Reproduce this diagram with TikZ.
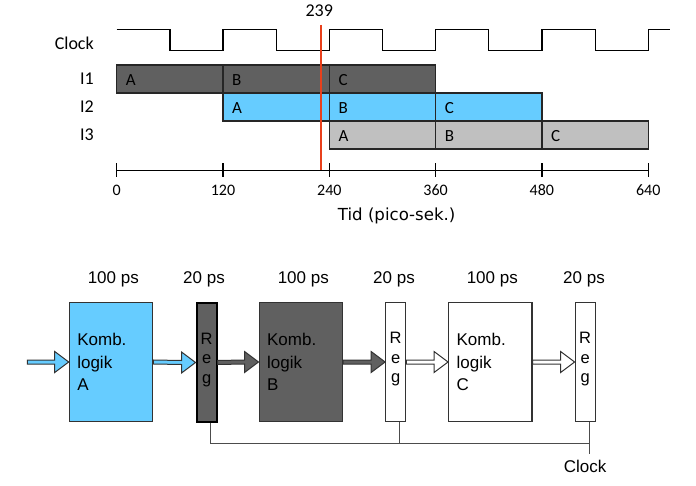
\documentclass[tikz,border=0pt]{standalone}
\usepackage{fontspec}
\setmainfont{Carlito}
\newfontfamily\arialfont{Liberation Sans}
\newfontfamily\tidfont{DejaVu Sans}
\usetikzlibrary{calc}
\definecolor{darkbar}{HTML}{606060}
\definecolor{bluebar}{HTML}{66CCFF}
\definecolor{lightbar}{HTML}{C0C0C0}
\definecolor{cutline}{HTML}{E8401C}
\definecolor{edge}{HTML}{333333}

% fat arrow from one anchor to another (horizontal)
\newcommand\fatarrow[3]{%
  \filldraw[#1] ($(#2)+(0,-2)$) -- ($(#3)+(-14,-2)$) -- ($(#3)+(-14,-10.5)$)
    -- (#3) -- ($(#3)+(-14,10.5)$) -- ($(#3)+(-14,2)$) -- ($(#2)+(0,2)$) -- cycle;}

\begin{document}
\begin{tikzpicture}[
        x=1pt, y=-1pt,
        toplabel/.style={font=\fontsize{18}{20}\selectfont, inner sep=0},
        ticklabel/.style={font=\fontsize{16}{18}\selectfont, inner sep=0, anchor=base},
        barletter/.style={font=\fontsize{17}{19}\selectfont, inner sep=0, anchor=base west},
        bar/.style={draw=black!85, line width=1.2pt},
        clockline/.style={black, line width=1.2pt},
        comb/.style={draw=edge, line width=1.2pt, minimum height=118.6, text width=67.4,
            inner xsep=8, inner ysep=0, align=left, font=\arialfont\fontsize{17}{22.2}\selectfont},
        reg/.style={draw=edge, line width=1.2pt, minimum height=118.6, minimum width=20,
            text width=20, inner sep=0, align=center, font=\arialfont\fontsize{16.5}{19.4}\selectfont},
        delay/.style={font=\arialfont\fontsize{17}{19}\selectfont, inner sep=0, anchor=base},
        wire/.style={draw=black!70, line width=1.2pt},
    ]
    \useasboundingbox (0,0) rectangle (696,486);

    % --- Klokkesignal ---
    \node[toplabel, anchor=base east] (clocklbl) at (94,50) {Clock};
    \draw[clockline] (116.7,29.3) -| (170,50.7) -| (223,29.3) -| (276.2,50.7) -| (329.3,29.3)
        -| (382.5,50.7) -| (435.6,29.3) -| (488.8,50.7) -| (541.9,29.3) -| (595.1,50.7)
        -| (648.2,29.3) -- (670,29.3);

    % --- Instruksjoner i pipelinen ---
    \foreach \r/\col in {0/darkbar, 1/bluebar, 2/lightbar} {
        \node[toplabel, anchor=base east] (row\r) at (94,85+28*\r) {I\pgfmathparse{int(\r+1)}\pgfmathresult};
        \foreach \k/\l in {0/A, 1/B, 2/C} {
            \pgfmathsetmacro\xa{116.7+106.3*(\r+\k)}
            \draw[bar, fill=\col] (\xa,65+28*\r) rectangle ++(106.3,28);
            \node[barletter] (let\r\k) at (\xa+9,86+28*\r) {\l};
        }
    }

    % --- Tidsakse ---
    \draw[clockline] (116.7,170.3) -- (648.2,170.3);
    \foreach \i/\t in {0/0, 1/120, 2/240, 3/360, 4/480, 5/640} {
        \draw[clockline] (116.7+106.3*\i,163.3) -- (116.7+106.3*\i,177);
        \node[ticklabel] (tick\i) at (116.7+106.3*\i,196) {\t};
    }
    \node[inner sep=0, anchor=base, font=\tidfont\fontsize{16.6}{18}\selectfont] (tid) at (396.7,220.5) {Tid (pico-sek.)};

    % --- Tidspunkt 239 ---
    \draw[cutline, line width=1.8pt] (320.7,25) -- (320.7,170.3);
    \node[toplabel, anchor=base] (cut) at (319.3,16.7) {239};

    % --- Kombinatorisk logikk og registre ---
    \node[comb, fill=bluebar] (A) at (111,362) {Komb.\\logik\\A};
    \node[reg, fill=darkbar, draw=black, line width=2.2pt] (r1) at (206.6,362.5) {\mbox{}\\[-13.4pt]R\\e\\g};
    \node[comb, fill=darkbar] (B) at (300.8,362) {Komb.\\logik\\B};
    \node[reg, fill=white] (r2) at (395.7,362) {\mbox{}\\[-13.4pt]R\\e\\g};
    \node[comb, fill=white] (C) at (490.3,362) {Komb.\\logik\\C};
    \node[reg, fill=white] (r3) at (585.2,362) {\mbox{}\\[-13.4pt]R\\e\\g};

    % --- Forsinkelser ---
    \node[delay] (dA) at (113.3,283.3) {100 ps};
    \node[delay] (d1) at (204,283.3) {20 ps};
    \node[delay] (dB) at (303.3,283.3) {100 ps};
    \node[delay] (d2) at (394,283.3) {20 ps};
    \node[delay] (dC) at (492.3,283.3) {100 ps};
    \node[delay] (d3) at (584,283.3) {20 ps};

    % --- Dataflyt ---
    \coordinate (in) at (27.3,362);
    \fatarrow{fill=bluebar, draw=edge, line width=1pt}{in}{A.west}
    \fatarrow{fill=bluebar, draw=edge, line width=1pt}{A.east}{r1.west}
    \fatarrow{fill=darkbar, draw=black!80, line width=1pt}{r1.east}{B.west}
    \fatarrow{fill=darkbar, draw=black!80, line width=1pt}{B.east}{r2.west}
    \fatarrow{fill=white, draw=edge, line width=1pt}{r2.east}{C.west}
    \fatarrow{fill=white, draw=edge, line width=1pt}{C.east}{r3.west}

    % --- Klokkeledninger ---
    \node[font=\arialfont\fontsize{17}{19}\selectfont, inner sep=0, anchor=base] (clk) at (585,472.7) {Clock};
    \coordinate (t1) at ([xshift=3.5]r1.south);
    \coordinate (t2) at ([xshift=4]r2.south);
    \coordinate (t3) at ([xshift=4]r3.south);
    \coordinate (bus) at (0,443.3);
    \draw[wire] (t1) |- (t3 |- bus) -- (t3);
    \draw[wire] (t2) -- (t2 |- bus);
    \draw[wire] (t3 |- bus) -- ($(t3 |- clk.north)+(0,-6)$);
\end{tikzpicture}
\end{document}
